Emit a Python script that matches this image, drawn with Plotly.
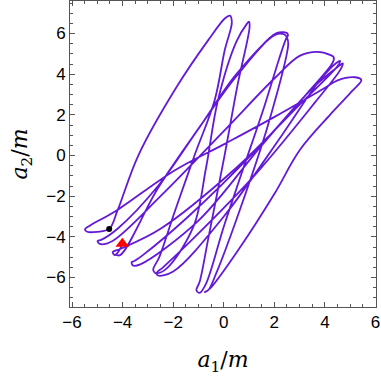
import plotly.graph_objects as go

# trajectory (a1/m, a2/m), tip to tip
a1 = [-4.30, -4.10, -2.60, -0.90, 0.50, 2.05, 2.40, 2.50,
      2.55, 1.75, 0.60, -0.30, -0.60, -0.75,
      -0.55, 0.60, 2.01, 3.00, 4.20, 5.10, 5.44,
      5.20, 4.50, 3.99, 2.01, 0.00, -1.93, -4.30, -5.30, -5.49,
      -5.40, -5.00, -4.53,
      -4.20, -3.38, -1.86, -0.60, 0.05, 0.24,
      0.32, 0.04, -0.36, -1.14, -1.95, -2.55, -2.79,
      -2.70, -2.30, -1.20, -0.70, -0.23, 0.50, 0.90, 1.00,
      1.02, 0.55, 0.04, -0.60, -0.95, -1.08,
      -0.95, -0.70, 0.00, 0.70, 1.60, 2.20, 2.45, 2.54,
      2.50, 2.09, 0.50, -0.95, -2.60, -4.20, -4.85, -4.99,
      -4.90, -4.40, -2.50, 0.00, 2.01, 3.00, 3.72, 4.20, 4.35,
      4.30, 3.40, 1.30, -1.40, -3.20, -3.55, -3.64,
      -3.60, -3.30, -1.00, 1.50, 3.50, 4.50, 4.71,
      4.60, 3.60, 1.20, -1.30, -2.40, -2.66,
      -2.60, -2.00, 0.00, 2.30, 3.80, 4.45, 4.60,
      4.50, 3.00, 0.50, -2.50, -4.10, -4.39,
      -4.30, -4.10, -4.01]
a2 = [-4.86, -4.90, -1.60, 1.50, 4.00, 5.95, 5.95, 5.80,
      5.50, 1.50, -2.80, -5.80, -6.60, -6.72,
      -6.55, -4.60, -1.87, 0.26, 2.00, 3.20, 3.71,
      3.85, 3.70, 3.32, 1.90, 0.55, -0.72, -2.75, -3.45, -3.63,
      -3.75, -3.75, -3.61,
      -2.70, 0.00, 3.38, 5.70, 6.75, 6.88,
      6.55, 5.19, 2.72, 0.06, -2.80, -5.00, -5.62,
      -5.78, -5.60, -3.50, -0.60, 2.72, 5.60, 6.45, 6.58,
      6.30, 3.50, 0.06, -4.00, -6.20, -6.63,
      -6.75, -6.30, -3.50, -0.90, 2.40, 4.80, 5.70, 5.92,
      6.02, 6.02, 3.90, 1.41, -1.50, -3.60, -4.15, -4.20,
      -4.35, -4.20, -2.00, 1.20, 3.80, 4.90, 5.10, 4.95, 4.83,
      4.55, 3.20, 0.30, -3.00, -4.90, -5.20, -5.24,
      -5.40, -5.35, -3.20, 0.50, 3.30, 4.35, 4.53,
      4.20, 2.60, -1.00, -4.20, -5.50, -5.78,
      -5.90, -5.70, -3.00, 1.00, 3.70, 4.55, 4.65,
      4.40, 2.50, -0.60, -3.60, -4.60, -4.75,
      -4.90, -4.60, -4.34]

start_pt = (-4.53, -3.61)
end_pt = (-4.01, -4.34)

fig = go.Figure()
fig.add_trace(go.Scatter(x=a1, y=a2, mode="lines",
                         line=dict(color="#6419d6", width=1.8, shape="spline", smoothing=1.0)))
fig.add_trace(go.Scatter(x=[start_pt[0]], y=[start_pt[1]], mode="markers",
                         marker=dict(color="black", size=6)))
fig.add_trace(go.Scatter(x=[end_pt[0]], y=[end_pt[1]], mode="markers",
                         marker=dict(color="red", size=12, symbol="triangle-up")))

ax = dict(showline=True, linecolor="#555555", linewidth=1, mirror="allticks",
          ticks="inside", ticklen=5, tickcolor="#555555", dtick=2,
          minor=dict(dtick=0.5, ticklen=3, tickcolor="#555555", ticks="inside"),
          showgrid=False, zeroline=False, autorange=False,
          tickfont=dict(family="Liberation Sans, Arial", size=17, color="black"))

fig.update_layout(
    width=381, height=377,
    margin=dict(l=70, r=5, t=1, b=70, autoexpand=False),
    plot_bgcolor="white", paper_bgcolor="white",
    showlegend=False,
    xaxis=dict(ax, range=[-6.08, 6.02],
               title=dict(text="<i>a</i><sub>1</sub>/<i>m</i>", standoff=20,
                          font=dict(family="DejaVu Serif", size=22, color="black"))),
    yaxis=dict(ax, range=[-7.45, 7.6],
               title=dict(text="<i>a</i><sub>2</sub>/<i>m</i>", standoff=12,
                          font=dict(family="DejaVu Serif", size=22, color="black"))),
)

# page body has a default margin; drop it so the figure sits at 0,0
fig.write_html("out.html", config={"displayModeBar": False},
               post_script="document.body.style.margin='0px';")
